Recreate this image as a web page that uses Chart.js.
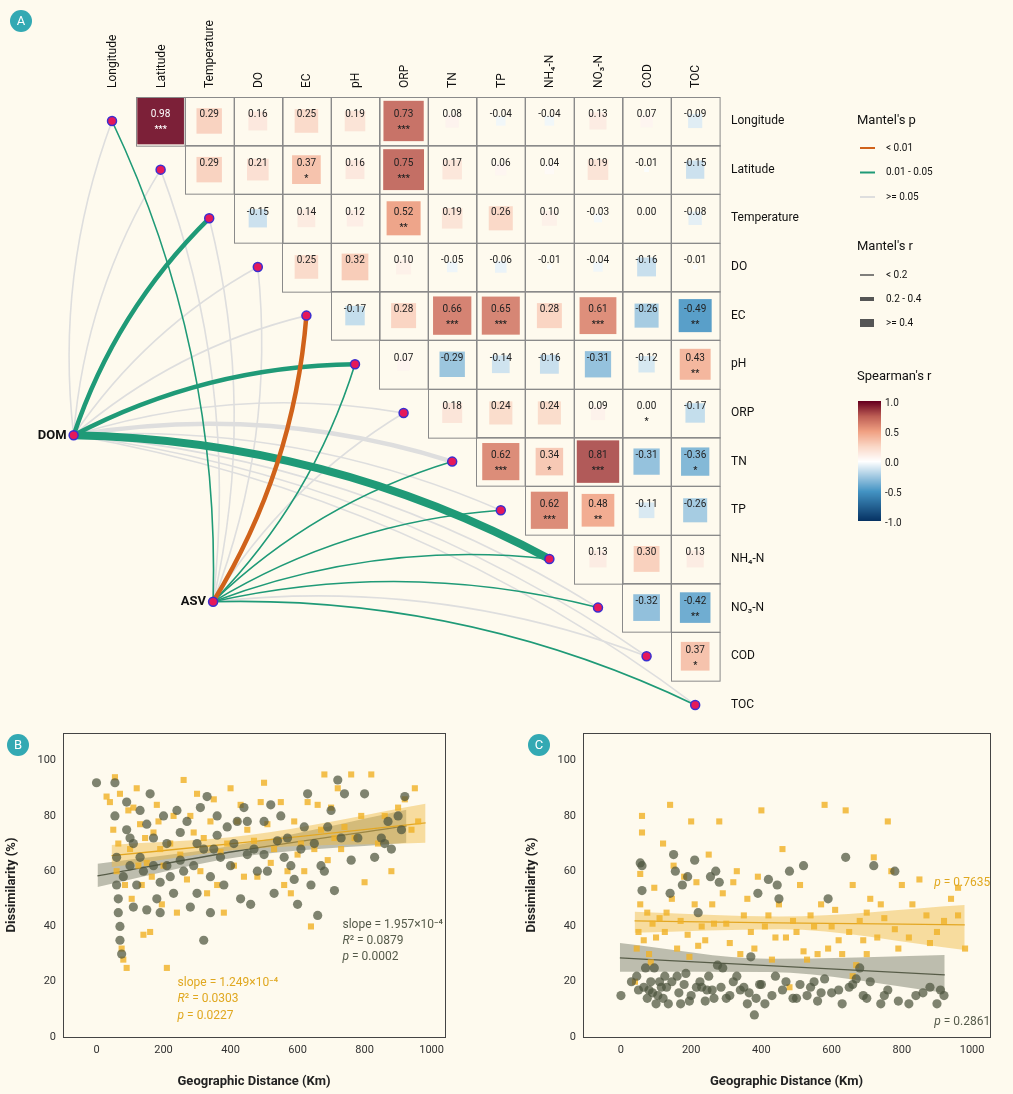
<!DOCTYPE html>
<html>
<head>
<meta charset="utf-8">
<script src="https://cdn.jsdelivr.net/npm/chart.js@4"></script>
<style>
  body { margin: 0; background: #fefaee; font-family: Roboto, sans-serif; }
  #wrap { position: relative; width: 1013px; height: 1094px; }
  canvas { position: absolute; }
</style>
</head>
<body>
<div id="wrap">
  <canvas id="cA" style="left:0px;top:0px" width="1013" height="720"></canvas>
  <canvas id="cB" style="left:0px;top:720px" width="460" height="374"></canvas>
  <canvas id="cC" style="left:520px;top:720px" width="493" height="374"></canvas>
</div>
<script>
// ---- Panel A : matrice de Spearman + liens Mantel ----
const vars = ['Longitude', 'Latitude', 'Temperature', 'DO', 'EC', 'pH', 'ORP', 'TN', 'TP', 'NH₄-N', 'NO₃-N', 'COD', 'TOC'];
// ligne i : valeurs pour les colonnes i+1 .. 12
const spearmanR = [
  [0.98, 0.29, 0.16, 0.25, 0.19, 0.73, 0.08, -0.04, -0.04, 0.13, 0.07, -0.09],
  [0.29, 0.21, 0.37, 0.16, 0.75, 0.17, 0.06, 0.04, 0.19, -0.01, -0.15],
  [-0.15, 0.14, 0.12, 0.52, 0.19, 0.26, 0.10, -0.03, 0.00, -0.08],
  [0.25, 0.32, 0.10, -0.05, -0.06, -0.01, -0.04, -0.16, -0.01],
  [-0.17, 0.28, 0.66, 0.65, 0.28, 0.61, -0.26, -0.49],
  [0.07, -0.29, -0.14, -0.16, -0.31, -0.12, 0.43],
  [0.18, 0.24, 0.24, 0.09, 0.00, -0.17],
  [0.62, 0.34, 0.81, -0.31, -0.36],
  [0.62, 0.48, -0.11, -0.26],
  [0.13, 0.30, 0.13],
  [-0.32, -0.42],
  [0.37]
];
const spearmanSig = [
  ['***', '', '', '', '', '***', '', '', '', '', '', ''],
  ['', '', '*', '', '***', '', '', '', '', '', ''],
  ['', '', '', '**', '', '', '', '', '', ''],
  ['', '', '', '', '', '', '', '', ''],
  ['', '', '***', '***', '', '***', '', '**'],
  ['', '', '', '', '', '', '**'],
  ['', '', '', '', '*', ''],
  ['***', '*', '***', '', '*'],
  ['***', '**', '', ''],
  ['', '', ''],
  ['', '**'],
  ['*']
];
// Mantel : classe p (0: <0.01, 1: 0.01-0.05, 2: >=0.05), classe r (0: <0.2, 1: 0.2-0.4, 2: >=0.4)
const domP = [2, 2, 1, 2, 2, 1, 2, 2, 2, 1, 2, 2, 2];
const domR = [0, 0, 1, 0, 0, 1, 0, 1, 0, 2, 0, 0, 0];
const asvP = [1, 2, 2, 2, 0, 1, 2, 1, 1, 1, 1, 2, 1];
const asvR = [0, 0, 0, 0, 1, 0, 0, 0, 0, 0, 0, 0, 0];
const sources = [{ name: 'DOM', col: -0.79, row: 6.46 }, { name: 'ASV', col: 2.08, row: 9.88 }];

const pColors = ['#d0621a', '#1f9a77', '#dedede'];
const rWidths = [1.6, 4.5, 8];

function rdbu(v) {
  const stops = [[-1, [5, 48, 97]], [-0.5, [67, 147, 195]], [-0.25, [160, 200, 225]], [0, [255, 255, 255]],
                 [0.25, [250, 215, 198]], [0.5, [240, 160, 130]], [0.75, [190, 95, 85]], [1, [103, 0, 31]]];
  for (let i = 1; i < stops.length; i++) {
    if (v <= stops[i][0]) {
      const [a, ca] = stops[i - 1], [b, cb] = stops[i];
      const t = (v - a) / (b - a);
      return 'rgb(' + ca.map((c, k) => Math.round(c + (cb[k] - c) * t)).join(',') + ')';
    }
  }
  return 'rgb(103,0,31)';
}

const matrixPlugin = {
  id: 'matrix',
  afterDatasetsDraw(chart) {
    const ctx = chart.ctx, X = chart.scales.x, Y = chart.scales.y;
    const px = c => X.getPixelForValue(c), py = r => Y.getPixelForValue(r);
    const cw = px(1) - px(0), ch = py(1) - py(0);
    ctx.save();
    // carrés colorés
    spearmanR.forEach((row, i) => row.forEach((v, k) => {
      const c = i + 1 + k, s = Math.sqrt(Math.abs(v)) * 0.97;
      ctx.fillStyle = rdbu(v);
      ctx.globalAlpha = 0.9;
      ctx.fillRect(px(c - s / 2), py(i - s / 2), s * cw, s * ch);
      ctx.globalAlpha = 1;
      ctx.fillStyle = v > 0.9 ? '#fff' : '#222';
      ctx.font = '10px Roboto';
      ctx.textAlign = 'center'; ctx.textBaseline = 'middle';
      ctx.fillText(v.toFixed(2), px(c), py(i) - 6);
      if (spearmanSig[i][k]) { ctx.font = 'bold 9px Roboto'; ctx.fillText(spearmanSig[i][k], px(c), py(i) + 9); }
    }));
    // grille en escalier
    ctx.strokeStyle = '#8a8a8a'; ctx.lineWidth = 1;
    spearmanR.forEach((row, i) => row.forEach((v, k) => {
      const c = i + 1 + k;
      ctx.strokeRect(Math.round(px(c - 0.5)) + 0.5, Math.round(py(i - 0.5)) + 0.5, cw, ch);
    }));
    // liens Mantel
    const edges = [];
    sources.forEach((s, si) => vars.forEach((_, j) => {
      const p = si === 0 ? domP[j] : asvP[j], r = si === 0 ? domR[j] : asvR[j];
      edges.push({ s, j, p, r, si });
    }));
    edges.sort((a, b) => b.p - a.p);
    edges.forEach(e => {
      const x0 = px(e.s.col), y0 = py(e.s.row), x1 = px(e.j), y1 = py(e.j);
      const dx = x1 - x0, dy = y1 - y0, len = Math.hypot(dx, dy);
      let nx = dy / len, ny = -dx / len; // normale gauche
      if (e.si === 1) {
        if (Math.abs(dy) > Math.abs(dx)) { if (nx < 0) { nx = -nx; ny = -ny; } }
        else if (ny > 0) { nx = -nx; ny = -ny; }
      }
      const k = 0.12 * len;
      ctx.beginPath();
      ctx.moveTo(x0, y0);
      ctx.quadraticCurveTo((x0 + x1) / 2 + nx * k, (y0 + y1) / 2 + ny * k, x1, y1);
      ctx.strokeStyle = pColors[e.p]; ctx.lineWidth = rWidths[e.r]; ctx.lineCap = 'round';
      ctx.stroke();
    });
    // noeuds
    const node = (x, y) => {
      ctx.beginPath(); ctx.arc(x, y, 4.5, 0, Math.PI * 2);
      ctx.fillStyle = '#e5195a'; ctx.fill(); ctx.lineWidth = 1.5; ctx.strokeStyle = '#3a2fd0'; ctx.stroke();
    };
    vars.forEach((_, j) => node(px(j), py(j)));
    sources.forEach(s => node(px(s.col), py(s.row)));
    ctx.fillStyle = '#111'; ctx.font = 'bold 13px Roboto'; ctx.textAlign = 'right'; ctx.textBaseline = 'middle';
    sources.forEach(s => ctx.fillText(s.name, px(s.col) - 7, py(s.row)));
    // étiquettes
    ctx.font = '12px Roboto'; ctx.fillStyle = '#111';
    vars.forEach((v, j) => {
      ctx.save(); ctx.translate(px(j) + 1, 88); ctx.rotate(-Math.PI / 2);
      ctx.textAlign = 'left'; ctx.fillText(v, 0, 0); ctx.restore();
      ctx.textAlign = 'left'; ctx.fillText(v, 731, py(j));
    });
    // légendes
    ctx.font = '13px Roboto'; ctx.fillText("Mantel's p", 857, 121);
    ['< 0.01', '0.01 - 0.05', '>= 0.05'].forEach((t, i) => {
      const y = 148 + i * 24.5;
      ctx.strokeStyle = pColors[i]; ctx.lineWidth = 2; ctx.lineCap = 'butt';
      ctx.beginPath(); ctx.moveTo(860, y); ctx.lineTo(875, y); ctx.stroke();
      ctx.font = '10px Roboto'; ctx.fillText(t, 886, y);
    });
    ctx.font = '13px Roboto'; ctx.fillText("Mantel's r", 857, 247);
    ['< 0.2', '0.2 - 0.4', '>= 0.4'].forEach((t, i) => {
      const y = 275 + i * 24;
      ctx.strokeStyle = '#555'; ctx.lineWidth = [1.5, 4, 8][i];
      ctx.beginPath(); ctx.moveTo(860, y); ctx.lineTo(874, y); ctx.stroke();
      ctx.font = '10px Roboto'; ctx.fillText(t, 886, y);
    });
    ctx.font = '13px Roboto'; ctx.fillText("Spearman's r", 857, 377);
    for (let yy = 401; yy < 521; yy++) {
      ctx.fillStyle = rdbu(1 - 2 * (yy - 401) / 120); ctx.fillRect(858, yy, 23, 1);
    }
    ctx.fillStyle = '#222'; ctx.font = '10px Roboto';
    ['1.0', '0.5', '0.0', '-0.5', '-1.0'].forEach((t, i) => ctx.fillText(t, 885, 403 + i * 30));
    ctx.restore();
  }
};

function panelBadge(ctx, x, y, t) {
  ctx.save();
  ctx.beginPath(); ctx.arc(x, y, 11, 0, Math.PI * 2); ctx.fillStyle = '#33a9b3'; ctx.fill();
  ctx.fillStyle = '#fff'; ctx.font = '13px Roboto'; ctx.textAlign = 'center'; ctx.textBaseline = 'middle';
  ctx.fillText(t, x, y + 1); ctx.restore();
}

new Chart(document.getElementById('cA'), {
  type: 'scatter',
  data: { datasets: [] },
  options: {
    responsive: false, animation: false,
    layout: { padding: 0 },
    plugins: { legend: { display: false }, tooltip: { enabled: false } },
    scales: {
      x: { display: false, min: -2.305, max: 18.54 },
      y: { display: false, reverse: true, min: -2.486, max: 12.31 }
    }
  },
  plugins: [matrixPlugin, { id: 'badgeA', afterDraw(c) { panelBadge(c.ctx, 21, 21, 'A'); } }]
});

// ---- Panels B et C : dissimilarité vs distance ----
const bDomX = [0, 55, 55, 60, 65, 70, 75, 70, 80, 90, 100, 110, 120, 130, 140, 150, 160, 170, 180, 190, 200, 210, 220, 240, 250, 270, 280, 300, 310, 320, 330, 340, 350, 360, 380, 400, 420, 440, 450, 460, 480, 500, 520, 540, 560, 580, 600, 620, 630, 640, 660, 680, 700, 720, 740, 760, 800, 850, 860, 880, 920, 910,
  60, 65, 90, 100, 110, 130, 150, 170, 190, 210, 230, 250, 260, 290, 300, 320, 340, 360, 370, 390, 410, 430, 450, 470, 500, 510, 530, 550, 570, 590, 610, 650, 670, 690, 710, 730, 780, 830, 870, 900];
const bDomY = [92, 92, 80, 65, 45, 40, 30, 35, 58, 75, 72, 70, 55, 65, 60, 77, 88, 62, 50, 56, 80, 70, 58, 82, 64, 78, 47, 70, 83, 35, 87, 58, 68, 80, 55, 62, 78, 83, 66, 48, 60, 78, 84, 71, 65, 62, 48, 76, 88, 55, 44, 60, 82, 93, 88, 64, 88, 72, 70, 68, 87, 75,
  55, 50, 85, 62, 47, 82, 46, 72, 45, 62, 52, 74, 60, 62, 52, 68, 45, 73, 65, 76, 70, 50, 78, 68, 66, 60, 52, 80, 72, 57, 68, 70, 62, 76, 53, 72, 72, 65, 78, 80];
const bAsvX = [30, 40, 55, 60, 70, 75, 80, 90, 100, 110, 120, 130, 140, 150, 160, 170, 180, 190, 200, 210, 230, 240, 260, 270, 290, 300, 320, 330, 350, 370, 380, 400, 420, 440, 470, 490, 500, 520, 540, 560, 580, 600, 620, 640, 660, 680, 700, 720, 740, 760, 800, 820, 880, 900, 960, 950,
  50, 65, 85, 95, 105, 125, 135, 145, 165, 185, 195, 220, 250, 280, 310, 340, 360, 390, 410, 430, 450, 480, 510, 530, 550, 570, 590, 610, 630, 650, 670, 690, 710, 730, 770, 790, 840, 860, 920, 940];
const bAsvY = [87, 85, 94, 60, 88, 32, 28, 25, 68, 83, 90, 77, 37, 63, 38, 74, 84, 68, 62, 25, 80, 45, 93, 57, 74, 88, 72, 52, 86, 67, 45, 90, 78, 58, 71, 85, 92, 63, 71, 55, 52, 66, 60, 40, 84, 95, 83, 90, 76, 95, 56, 95, 60, 83, 78, 90,
  75, 70, 55, 82, 50, 62, 55, 72, 58, 78, 48, 70, 66, 80, 60, 78, 55, 70, 62, 84, 75, 58, 77, 68, 85, 60, 78, 70, 85, 68, 75, 64, 72, 68, 72, 80, 70, 80, 86, 75];
const cDomX = [0, 30, 50, 55, 60, 60, 70, 80, 90, 100, 110, 120, 130, 140, 150, 155, 160, 170, 180, 190, 200, 210, 220, 230, 240, 250, 260, 270, 280, 290, 300, 320, 340, 360, 370, 380, 390, 400, 420, 430, 440, 450, 460, 480, 500, 520, 540, 560, 580, 600, 620, 640, 660, 680, 700, 720, 740, 760, 780, 820, 840, 880, 900, 920,
  45, 65, 75, 85, 95, 105, 115, 125, 135, 145, 165, 175, 185, 195, 215, 225, 245, 255, 265, 275, 285, 310, 330, 350, 365, 385, 395, 410, 445, 470, 490, 510, 530, 550, 570, 590, 630, 650, 670, 690, 710, 750, 790, 860, 910];
const cDomY = [15, 20, 17, 63, 62, 53, 25, 17, 16, 12, 20, 14, 18, 52, 66, 60, 22, 12, 19, 58, 15, 64, 45, 18, 13, 22, 17, 60, 56, 25, 14, 20, 17, 12, 29, 8, 52, 19, 57, 15, 22, 50, 17, 60, 14, 62, 18, 13, 21, 16, 17, 65, 19, 25, 14, 62, 12, 17, 60, 12, 15, 18, 12, 15,
  22, 18, 14, 20, 25, 15, 18, 22, 12, 20, 16, 55, 23, 13, 18, 20, 17, 58, 14, 26, 18, 15, 22, 18, 16, 14, 19, 12, 55, 20, 14, 19, 15, 20, 16, 50, 12, 18, 21, 15, 20, 15, 13, 16, 17];
const cAsvX = [40, 50, 55, 60, 60, 75, 80, 90, 100, 120, 130, 140, 150, 160, 180, 190, 200, 210, 220, 230, 250, 260, 280, 300, 320, 340, 360, 380, 400, 410, 420, 440, 460, 480, 500, 520, 540, 560, 580, 600, 620, 640, 660, 680, 700, 720, 740, 760, 780, 800, 820, 850, 880, 920, 940, 960, 980, 660, 700,
  45, 55, 65, 85, 95, 110, 125, 145, 170, 195, 215, 240, 265, 290, 310, 330, 350, 370, 390, 430, 450, 470, 490, 510, 530, 550, 570, 590, 610, 630, 650, 670, 690, 710, 730, 750, 770, 790, 830, 870, 900, 960];
const cAsvY = [20, 38, 59, 74, 80, 45, 30, 41, 36, 70, 45, 84, 62, 32, 58, 37, 78, 48, 33, 40, 66, 48, 78, 41, 56, 30, 50, 32, 82, 40, 44, 36, 68, 18, 38, 31, 44, 30, 84, 40, 35, 82, 55, 42, 30, 65, 48, 78, 39, 55, 36, 57, 34, 42, 50, 44, 32, 22, 45,
  32, 48, 35, 27, 54, 43, 38, 50, 42, 29, 56, 35, 41, 52, 34, 60, 44, 38, 58, 28, 48, 36, 42, 55, 28, 40, 48, 32, 46, 30, 38, 26, 35, 50, 36, 43, 60, 32, 48, 44, 38, 54];
// droites de régression et intervalles de confiance [x, bas, ajusté, haut]
const bDomFit = [[3, 54.3, 58.3, 62.7], [420, 65, 67.3, 69.5], [925, 70.3, 76.4, 82.2]];
const bAsvFit = [[45, 61.5, 65.6, 69.5], [450, 68, 70.5, 73], [982, 70.3, 77.5, 84.4]];
const cDomFit = [[-3, 23.6, 28.6, 34], [420, 23.5, 25.8, 28.3], [922, 16, 22.5, 29.7]];
const cAsvFit = [[39, 37.7, 42, 45.3], [450, 39, 41.3, 43.6], [979, 31.5, 40.6, 47.8]];

const DOM_COL = 'rgba(78,84,62,0.72)', ASV_COL = 'rgba(240,178,40,0.82)';

function pts(xs, ys) { return xs.map((x, i) => ({ x, y: ys[i] })); }
function fitSets(fit, line, band) {
  const base = { type: 'line', pointRadius: 0, tension: 0.4, cubicInterpolationMode: 'monotone' };
  return [
    { ...base, data: fit.map(f => ({ x: f[0], y: f[1] })), borderWidth: 0, fill: false },
    { ...base, data: fit.map(f => ({ x: f[0], y: f[3] })), borderWidth: 0, fill: '-1', backgroundColor: band },
    { ...base, data: fit.map(f => ({ x: f[0], y: f[2] })), borderColor: line, borderWidth: 1.3, tension: 0 }
  ];
}

function makePanel(id, domX, domY, asvX, asvY, domFit, asvFit, xmin, xmax, notes, badge) {
  new Chart(document.getElementById(id), {
    type: 'scatter',
    data: {
      datasets: [
        { data: pts(domX, domY), backgroundColor: DOM_COL, borderWidth: 0, pointRadius: 4.6, pointStyle: 'circle' },
        { data: pts(asvX, asvY), backgroundColor: ASV_COL, borderWidth: 0, pointRadius: 4.3, pointStyle: 'rect' },
        ...fitSets(asvFit, '#d99a10', 'rgba(240,185,60,0.45)'),
        ...fitSets(domFit, '#444a36', 'rgba(110,115,95,0.45)')
      ]
    },
    options: {
      responsive: false, animation: false,
      layout: { padding: { top: 13, right: id === 'cB' ? 15 : 23 } },
      plugins: { legend: { display: false }, tooltip: { enabled: false } },
      scales: {
        x: {
          min: xmin, max: xmax,
          afterFit: s => { s.height = 57; },
          afterBuildTicks: s => { s.ticks = [0, 200, 400, 600, 800, 1000].map(v => ({ value: v })); },
          grid: { display: false, drawTicks: true, tickLength: 4, tickColor: '#333' },
          border: { color: '#444' },
          ticks: { color: '#333', font: { size: 11, family: 'Roboto' }, callback: v => String(v) },
          title: { display: true, text: 'Geographic Distance (Km)', color: '#222', font: { size: 13, weight: 'bold', family: 'Roboto' } }
        },
        y: {
          min: 0, max: 110,
          afterFit: s => { s.width = 63; },
          afterBuildTicks: s => { s.ticks = [0, 20, 40, 60, 80, 100].map(v => ({ value: v })); },
          grid: { display: false, drawTicks: true, tickLength: 4, tickColor: '#333' },
          border: { color: '#444' },
          ticks: { color: '#333', font: { size: 11, family: 'Roboto' } },
          title: { display: true, text: 'Dissimilarity (%)', color: '#222', font: { size: 13, weight: 'bold', family: 'Roboto' } }
        }
      }
    },
    plugins: [{
      id: 'notes',
      afterDraw(c) {
        const ctx = c.ctx, a = c.chartArea, X = c.scales.x, Y = c.scales.y;
        ctx.save();
        ctx.strokeStyle = '#444'; ctx.lineWidth = 1;
        ctx.strokeRect(a.left + 0.5, a.top + 0.5, a.right - a.left, a.bottom - a.top);
        ctx.textBaseline = 'middle'; ctx.textAlign = 'left';
        notes.forEach(n => {
          let x = X.getPixelForValue(n.x); const y = Y.getPixelForValue(n.y);
          ctx.fillStyle = n.color;
          n.parts.forEach(([t, it]) => {
            ctx.font = (it ? 'italic ' : '') + '12px Roboto';
            ctx.fillText(t, x, y); x += ctx.measureText(t).width;
          });
        });
        ctx.restore();
        panelBadge(ctx, badge.x, badge.y, badge.t);
      }
    }]
  });
}

const GREY_TXT = '#555a4a', GOLD_TXT = '#e0a820';
makePanel('cB', bDomX, bDomY, bAsvX, bAsvY, bDomFit, bAsvFit, -100, 1040, [
  { x: 734, y: 40.6, color: GREY_TXT, parts: [['slope = 1.957×10⁻⁴', false]] },
  { x: 734, y: 34.8, color: GREY_TXT, parts: [['R', true], ['² = 0.0879', false]] },
  { x: 734, y: 29, color: GREY_TXT, parts: [['p', true], [' = 0.0002', false]] },
  { x: 242, y: 19.6, color: GOLD_TXT, parts: [['slope = 1.249×10⁻⁴', false]] },
  { x: 242, y: 13.8, color: GOLD_TXT, parts: [['R', true], ['² = 0.0303', false]] },
  { x: 242, y: 7.6, color: GOLD_TXT, parts: [['p', true], [' = 0.0227', false]] }
], { x: 18, y: 25, t: 'B' });
makePanel('cC', cDomX, cDomY, cAsvX, cAsvY, cDomFit, cAsvFit, -108, 1051, [
  { x: 892, y: 55.8, color: GOLD_TXT, parts: [['p', true], [' = 0.7635', false]] },
  { x: 892, y: 5.4, color: GREY_TXT, parts: [['p', true], [' = 0.2861', false]] }
], { x: 19, y: 25, t: 'C' });
</script>
</body>
</html>
